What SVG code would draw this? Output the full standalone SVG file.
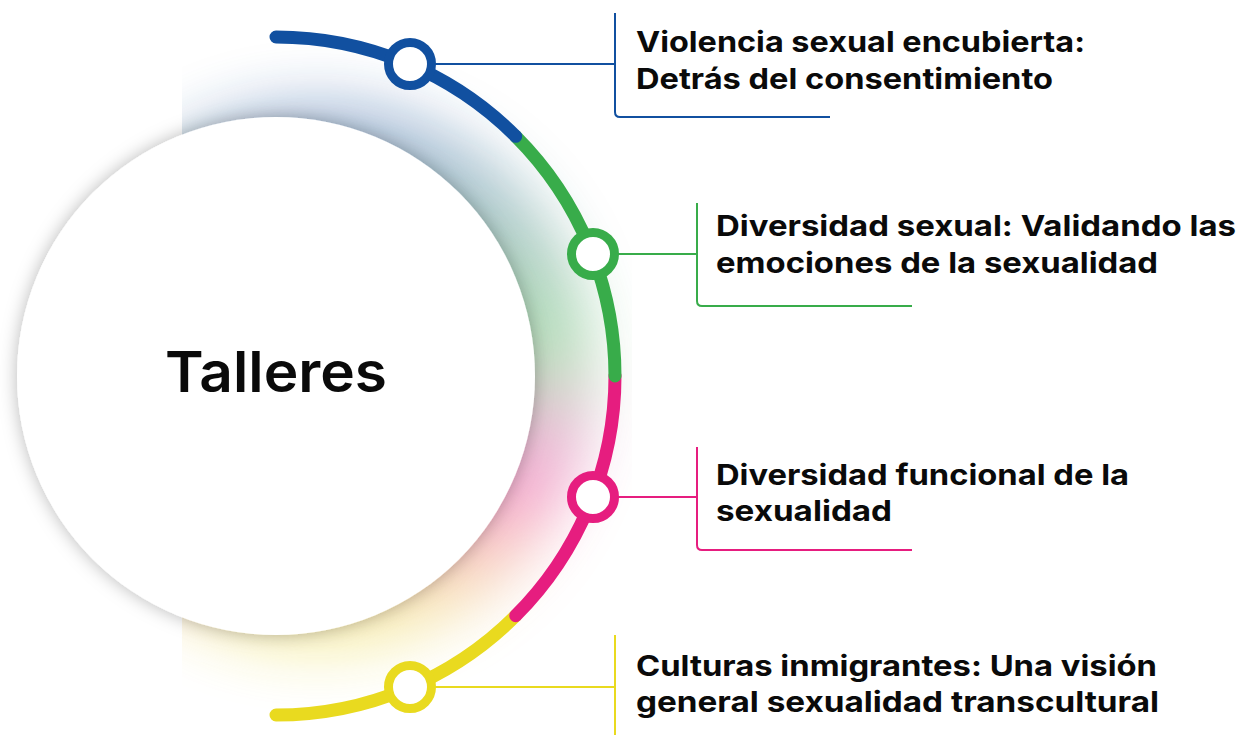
<svg xmlns="http://www.w3.org/2000/svg" width="1244" height="735" viewBox="0 0 1244 735">
  <style>
    .lbl { font-family: Inter, "Liberation Sans", Arial, sans-serif; font-weight: 700; font-size: 29px; fill: #0a0a0a; }
    .title { font-family: Inter, "Liberation Sans", Arial, sans-serif; font-weight: 600; font-size: 56px; fill: #0a0a0a; }
    .seg { fill: none; stroke-width: 13; stroke-linecap: round; }
    .node { fill: #ffffff; stroke-width: 9; }
    .con { fill: none; stroke-width: 2; }
  </style>
  <defs>
    <clipPath id="glowClip"><rect x="182" y="21" width="450" height="710"/></clipPath>
    <linearGradient id="glowGrad" x1="0" y1="0" x2="0" y2="1">
      <stop offset="0.05" stop-color="#1a4f9c"/>
      <stop offset="0.32" stop-color="#2f8a55"/>
      <stop offset="0.45" stop-color="#3aae4a"/>
      <stop offset="0.6" stop-color="#c04a90"/>
      <stop offset="0.72" stop-color="#e91e80"/>
      <stop offset="0.95" stop-color="#e8d81e"/>
    </linearGradient>
    <filter id="blurBig" x="-30%" y="-30%" width="160%" height="160%">
      <feGaussianBlur stdDeviation="30"/>
    </filter>
    <filter id="shadow" x="-20%" y="-20%" width="140%" height="140%">
      <feGaussianBlur in="SourceAlpha" stdDeviation="9"/>
      <feOffset dx="0" dy="0" result="b"/>
      <feFlood flood-color="#000000" flood-opacity="0.28"/>
      <feComposite in2="b" operator="in"/>
      <feMerge><feMergeNode/><feMergeNode in="SourceGraphic"/></feMerge>
    </filter>
  </defs>

  <g id="glow" clip-path="url(#glowClip)">
    <circle cx="318" cy="376" r="275" fill="url(#glowGrad)" opacity="0.38" filter="url(#blurBig)"/>
  </g>

  <g id="center">
    <circle cx="276" cy="376" r="259" fill="#ffffff" filter="url(#shadow)"/>
    <text class="title" x="276" y="392" text-anchor="middle" textLength="222" lengthAdjust="spacingAndGlyphs">Talleres</text>
  </g>

  <g id="arc">
    <path class="seg" stroke="#e9da1f" d="M 515.7 615.7 A 339 339 0 0 1 276 715"/>
    <path class="seg" stroke="#e61d7f" d="M 615 376 A 339 339 0 0 1 515.7 615.7"/>
    <path class="seg" stroke="#38ac4a" d="M 515.7 136.3 A 339 339 0 0 1 615 376"/>
    <path class="seg" stroke="#1150a0" d="M 276 37 A 339 339 0 0 1 515.7 136.3"/>
  </g>

  <g id="connectors">
    <path class="con" stroke="#1150a0" d="M 430 64 H 615 M 615 13 V 112 Q 615 117 620 117 H 830"/>
    <path class="con" stroke="#38ac4a" d="M 613 254 H 697 M 697 203 V 301 Q 697 306 702 306 H 912"/>
    <path class="con" stroke="#e61d7f" d="M 613 497 H 697 M 697 447 V 545 Q 697 550 702 550 H 912"/>
    <path class="con" stroke="#e9da1f" d="M 430 687 H 615 M 615 635 V 735"/>
  </g>

  <g id="node1">
    <circle class="node" stroke="#1150a0" cx="410" cy="64" r="21.5"/>
    <text class="lbl" x="636" y="52" textLength="449" lengthAdjust="spacingAndGlyphs">Violencia sexual encubierta:</text>
    <text class="lbl" x="636" y="89" textLength="417" lengthAdjust="spacingAndGlyphs">Detrás del consentimiento</text>
  </g>
  <g id="node2">
    <circle class="node" stroke="#38ac4a" cx="593" cy="254" r="21.5"/>
    <text class="lbl" x="716" y="236" textLength="520" lengthAdjust="spacingAndGlyphs">Diversidad sexual: Validando las</text>
    <text class="lbl" x="716" y="273" textLength="442" lengthAdjust="spacingAndGlyphs">emociones de la sexualidad</text>
  </g>
  <g id="node3">
    <circle class="node" stroke="#e61d7f" cx="593" cy="497" r="21.5"/>
    <text class="lbl" x="716" y="485" textLength="413" lengthAdjust="spacingAndGlyphs">Diversidad funcional de la</text>
    <text class="lbl" x="716" y="521" textLength="176" lengthAdjust="spacingAndGlyphs">sexualidad</text>
  </g>
  <g id="node4">
    <circle class="node" stroke="#e9da1f" cx="410" cy="687" r="21.5"/>
    <text class="lbl" x="636" y="676" textLength="521" lengthAdjust="spacingAndGlyphs">Culturas inmigrantes: Una visión</text>
    <text class="lbl" x="636" y="712" textLength="523" lengthAdjust="spacingAndGlyphs">general sexualidad transcultural</text>
  </g>
</svg>
